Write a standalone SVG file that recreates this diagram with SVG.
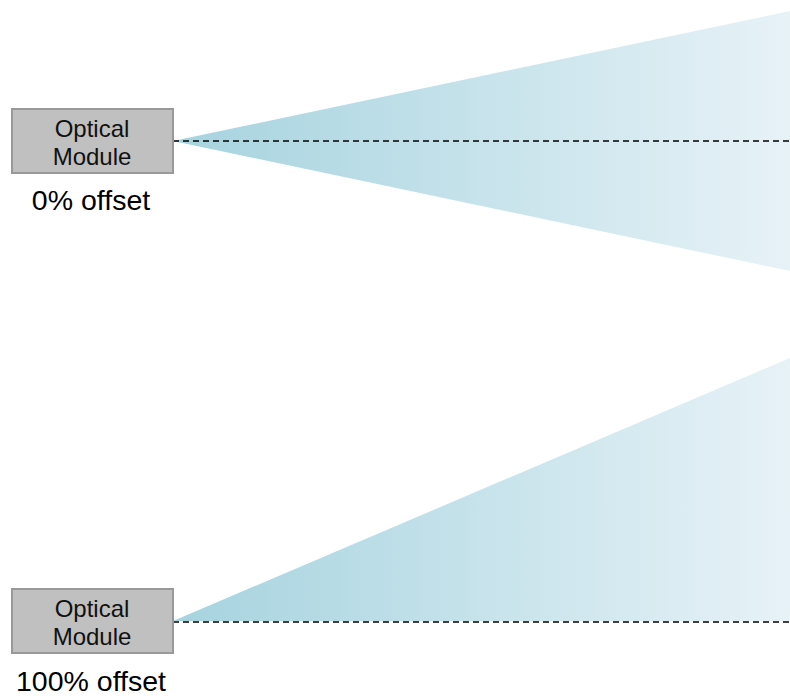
<svg xmlns="http://www.w3.org/2000/svg" width="790" height="696" viewBox="0 0 790 696">
<defs>
<linearGradient id="beam" gradientUnits="userSpaceOnUse" x1="173" y1="0" x2="790" y2="0">
<stop offset="0" stop-color="#a6d3df"/>
<stop offset="1" stop-color="#e7f2f7"/>
</linearGradient>
<style>
.box{fill:#c0c0c0;stroke:#999999;stroke-width:2}
.lbl{font-family:"Liberation Sans",Arial,sans-serif;font-size:24px;fill:#111;text-anchor:middle}
.cap{font-family:"Liberation Sans",Arial,sans-serif;font-size:28.5px;fill:#000;text-anchor:middle}
.axis{stroke:#000;stroke-width:1.5;stroke-dasharray:6 4;fill:none}
</style>
</defs>
<g id="beams">
<polygon points="173,141 790,11 790,271" fill="url(#beam)"/>
<polygon points="173,621 790,358 790,621" fill="url(#beam)"/>
</g>
<g id="connectors">
<line class="axis" x1="173" y1="141" x2="790" y2="141"/>
<line class="axis" x1="173" y1="622" x2="790" y2="622"/>
</g>
<g id="module0">
<rect class="box" x="12" y="109" width="161" height="64"/>
<text class="lbl" x="92" y="137">Optical</text>
<text class="lbl" x="92" y="165">Module</text>
<text class="cap" x="91" y="210">0% offset</text>
</g>
<g id="module100">
<rect class="box" x="12" y="589" width="161" height="64"/>
<text class="lbl" x="92" y="617">Optical</text>
<text class="lbl" x="92" y="645">Module</text>
<text class="cap" x="91" y="691">100% offset</text>
</g>
</svg>
